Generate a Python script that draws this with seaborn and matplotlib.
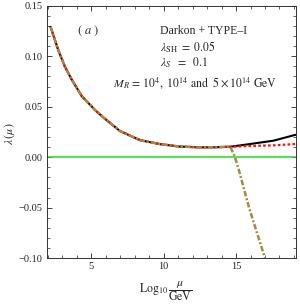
import matplotlib
matplotlib.use("Agg")
import matplotlib.pyplot as plt
from matplotlib.ticker import MultipleLocator
import seaborn as sns
import pandas as pd

# ---- data ----
x_common = [2.19, 2.72, 3.18, 3.64, 4.34, 5.26, 5.95, 6.98, 8.37, 9.75, 11.1, 12.5, 13.5, 14.6]
y_common = [0.129, 0.106, 0.0896, 0.0771, 0.0605, 0.0467, 0.0380, 0.0260, 0.0169, 0.0130, 0.0106, 0.0098, 0.0099, 0.0104]

x_black_tail = [15.97, 17.58, 19.1]
y_black_tail = [0.0131, 0.0164, 0.0222]

x_red_tail = [15.97, 17.58, 19.1]
y_red_tail = [0.0111, 0.0118, 0.0131]

x_brown_tail = [14.93, 15.2, 15.9, 17.0, 17.1]
y_brown_tail = [0.0, -0.013, -0.05, -0.10, -0.105]

x_ticks = [5, 10, 15]
y_ticks = [-0.10, -0.05, 0.00, 0.05, 0.10, 0.15]
y_ticklabels = ["\u22120.10", "\u22120.05", "0.00", "0.05", "0.10", "0.15"]

sns.set_style("ticks")
plt.rcParams["font.family"] = ["Liberation Serif", "DejaVu Serif"]
plt.rcParams["mathtext.fontset"] = "stix"

fig = plt.figure(figsize=(3.0, 3.05), dpi=100)
ax = fig.add_axes([46.7 / 300, 1 - 258.3 / 305, (295.7 - 46.7) / 300, (258.3 - 5.7) / 305])

black = pd.DataFrame({"x": x_common + x_black_tail, "y": y_common + y_black_tail})
red = pd.DataFrame({"x": x_common + x_red_tail, "y": y_common + y_red_tail})
brown = pd.DataFrame({"x": x_common + x_brown_tail, "y": y_common + y_brown_tail})

ax.axhline(0.0, color="#22dd22", lw=1.1, zorder=1)
sns.lineplot(data=black, x="x", y="y", ax=ax, color="black", lw=1.5, sort=False, estimator=None, zorder=2)
sns.lineplot(data=red, x="x", y="y", ax=ax, color="#ff1010", lw=1.6, sort=False, estimator=None,
             linestyle=(0, (1.2, 1.0)), zorder=3)
sns.lineplot(data=brown, x="x", y="y", ax=ax, color="#a08c46", lw=1.8, sort=False, estimator=None,
             linestyle=(0, (2.2, 0.8, 0.8, 0.8)), zorder=4)

ax.set_xlim(1.92, 19.12)
ax.set_ylim(-0.10, 0.15)
ax.set_xticks(x_ticks)
ax.set_xticklabels([str(t) for t in x_ticks])
ax.set_yticks(y_ticks)
ax.set_yticklabels(y_ticklabels)
ax.xaxis.set_minor_locator(MultipleLocator(1))
ax.yaxis.set_minor_locator(MultipleLocator(0.01))
ax.tick_params(which="both", direction="in", top=True, right=True, labelsize=7.5, colors="#222222", pad=3)
ax.tick_params(which="major", length=3.5, width=0.6)
ax.tick_params(which="minor", length=2, width=0.5)
for s in ax.spines.values():
    s.set_linewidth(0.7)
    s.set_color("#333333")

ax.set_xlabel("")
ax.set_ylabel("")

fig.text(10 / 300, 1 - 134 / 305, r"$\lambda\,(\mu)$", rotation=90, ha="center", va="center", fontsize=8.5)
fig.text(166 / 300, 1 - 291 / 305, r"$\mathrm{Log}_{10}\,\dfrac{\mu}{\mathrm{GeV}}$", ha="center", va="center", fontsize=8.5)

fig.text(77 / 300, 1 - 31 / 305, r"$(\ a\ )$", ha="left", va="center", fontsize=9)
fig.text(160 / 300, 1 - 31 / 305, "Darkon + TYPE\u2013I", ha="left", va="center", fontsize=8.5)
fig.text(160 / 300, 1 - 47 / 305, r"$\lambda_{\rm SH}\ =\ 0.05$", ha="left", va="center", fontsize=8.5)
fig.text(160 / 300, 1 - 63 / 305, r"$\lambda_S\ \ =\ \ 0.1$", ha="left", va="center", fontsize=8.5)
fig.text(113 / 300, 1 - 83 / 305, r"$M_R\,=\,10^4,\ 10^{14}\ \mathrm{and}\ \ 5\times 10^{14}\ \mathrm{GeV}$",
         ha="left", va="center", fontsize=8.5)

fig.savefig("out.png", dpi=100)
